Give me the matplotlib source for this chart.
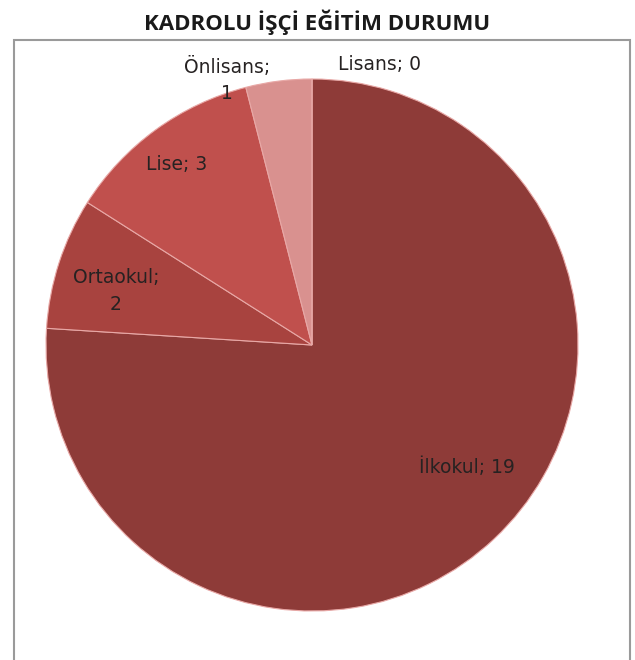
import matplotlib
matplotlib.use("Agg")
import matplotlib.pyplot as plt
from matplotlib.patches import Rectangle

# Data
categories = ["İlkokul", "Ortaokul", "Lise", "Önlisans", "Lisans"]
values = [19, 2, 3, 1, 0]
colors = ["#8E3B38", "#A8433F", "#C0504D", "#D9918F", "#E6B9B8"]
title = "KADROLU İŞÇİ EĞİTİM DURUMU"

W, H = 635, 660
fig = plt.figure(figsize=(W / 100, H / 100), dpi=100)
ax = fig.add_axes([0, 0, 1, 1])

cx, cy, R = 312, H - 345, 266
wedges, _ = ax.pie(values, colors=colors, startangle=90, counterclock=False,
                   center=(cx, cy), radius=R, frame=True,
                   wedgeprops=dict(edgecolor="#E8A8A6", linewidth=0.8))
ax.set_xlim(0, W)
ax.set_ylim(0, H)
ax.set_aspect("equal")
ax.axis("off")

# frame
ax.add_patch(Rectangle((13.5, -10), 616.5, H - 40 + 10, fill=False,
                       edgecolor="#9A9A9A", linewidth=1.5))

label_pos = {
    "İlkokul": (467, 467),
    "Ortaokul": (116, 291),
    "Lise": (177, 165),
    "Önlisans": (227, 80),
    "Lisans": (380, 65),
}
multiline = {"Ortaokul", "Önlisans"}
for c, v in zip(categories, values):
    x, y = label_pos[c]
    txt = f"{c};\n{v}" if c in multiline else f"{c}; {v}"
    ax.text(x, H - y, txt, ha="center", va="center", fontsize=13.5,
            color="#262222", family="DejaVu Sans", linespacing=1.5)

fig.text(317 / W, 1 - 22 / H, title, ha="center", va="center",
         fontsize=16, fontweight="bold", family="Open Sans", color="#1a1a1a")

fig.savefig("out.png", dpi=100)
